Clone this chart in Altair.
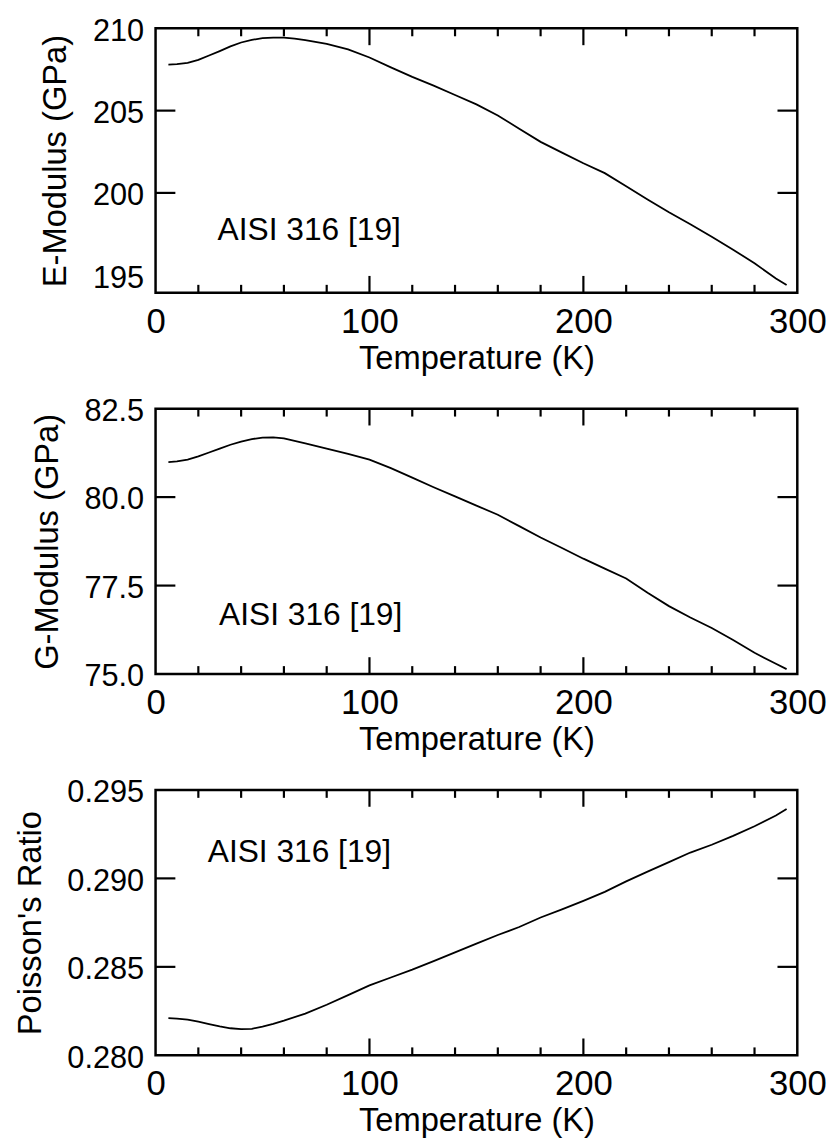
import altair as alt
import pandas as pd

# ---------------- data ----------------
T_E = [6, 10, 15, 20, 25, 30, 35, 40, 45, 50, 55, 60, 65, 70, 80, 90, 100, 110, 120,
       130, 140, 150, 160, 170, 180, 190, 200, 210, 220, 230, 240, 250, 260, 270, 280,
       290, 295]
E_GPA = [207.80, 207.82, 207.90, 208.08, 208.35, 208.62, 208.90, 209.14, 209.30, 209.40,
         209.44, 209.44, 209.38, 209.29, 209.05, 208.72, 208.23, 207.63, 207.05, 206.52,
         205.95, 205.38, 204.70, 203.90, 203.10, 202.45, 201.80, 201.20, 200.40, 199.60,
         198.82, 198.10, 197.33, 196.55, 195.72, 194.80, 194.40]

T_G = [6, 10, 15, 20, 25, 30, 35, 40, 45, 50, 55, 60, 70, 80, 90, 100, 110, 120, 130,
       140, 150, 160, 170, 180, 190, 200, 210, 220, 230, 240, 250, 260, 270, 280, 290, 295]
G_GPA = [80.99, 81.01, 81.06, 81.15, 81.26, 81.37, 81.48, 81.57, 81.64, 81.68, 81.69,
         81.66, 81.52, 81.37, 81.22, 81.06, 80.82, 80.55, 80.28, 80.02, 79.76, 79.50,
         79.18, 78.86, 78.56, 78.26, 77.98, 77.70, 77.30, 76.92, 76.60, 76.30, 75.96,
         75.60, 75.29, 75.14]

T_NU = [6, 10, 15, 20, 25, 30, 35, 40, 45, 50, 55, 60, 70, 80, 90, 100, 110, 120, 130,
        140, 150, 160, 170, 180, 190, 200, 210, 220, 230, 240, 250, 260, 270, 280, 290, 295]
NU = [0.28210, 0.28208, 0.28202, 0.28190, 0.28177, 0.28164, 0.28153, 0.28148, 0.28150,
      0.28162, 0.28178, 0.28196, 0.28236, 0.28286, 0.28340, 0.28395, 0.28440, 0.28484,
      0.28532, 0.28582, 0.28631, 0.28680, 0.28725, 0.28779, 0.28825, 0.28873, 0.28924,
      0.28983, 0.29038, 0.29092, 0.29146, 0.29190, 0.29240, 0.29295, 0.29355, 0.29392]

X_LABELS = [0, 100, 200, 300]
X_MINOR = [20, 40, 60, 80, 120, 140, 160, 180, 220, 240, 260, 280]
X_MAJOR = [100, 200]

E_TICKS = [195, 200, 205, 210]
G_TICKS = [75.0, 77.5, 80.0, 82.5]
NU_TICKS = [0.280, 0.285, 0.290, 0.295]

LABEL = "AISI 316 [19]"
FONT = "Liberation Sans"
W = 648
XMIN, XMAX = 0, 300
MINOR_LEN, MAJOR_LEN, YTICK_LEN = 8, 17, 20   # tick lengths in px (style)
CURVE_W, TICK_W = 1.8, 2.2                      # stroke widths (style)


def panel(T, vals, ydomain, yticks, yfmt, ytitle, h, ann_T, ann_v):
    ymin, ymax = ydomain
    xs = alt.Scale(domain=[XMIN, XMAX], nice=False, zero=False)
    ys = alt.Scale(domain=[ymin, ymax], nice=False, zero=False)
    xaxis = alt.Axis(values=X_LABELS, format="d", title="Temperature (K)",
                     labelFlush=False, labelOverlap=False)
    yaxis = alt.Axis(values=yticks, format=yfmt, title=ytitle, labelOverlap=False)

    # curve + inward frame ticks, all as segments of one line mark
    rows = [{"seg": "curve", "o": i, "T": t, "v": v, "sw": CURVE_W}
            for i, (t, v) in enumerate(zip(T, vals))]
    dy = (ymax - ymin) / h
    dx = (XMAX - XMIN) / W
    k = 0
    for t in X_MINOR + X_MAJOR:
        ln = MAJOR_LEN if t in X_MAJOR else MINOR_LEN
        for base, sgn in ((ymax, -1), (ymin, 1)):
            k += 1
            rows.append({"seg": f"xt{k}", "o": 0, "T": t, "v": base, "sw": TICK_W})
            rows.append({"seg": f"xt{k}", "o": 1, "T": t, "v": base + sgn * ln * dy,
                         "sw": TICK_W})
    for v in yticks[1:-1]:
        for base, sgn in ((XMIN, 1), (XMAX, -1)):
            k += 1
            rows.append({"seg": f"yt{k}", "o": 0, "T": base, "v": v, "sw": TICK_W})
            rows.append({"seg": f"yt{k}", "o": 1, "T": base + sgn * YTICK_LEN * dx, "v": v,
                         "sw": TICK_W})
    df = pd.DataFrame(rows)

    line = alt.Chart(df).mark_line(color="black").encode(
        x=alt.X("T:Q", scale=xs, axis=xaxis),
        y=alt.Y("v:Q", scale=ys, axis=yaxis),
        detail="seg:N",
        order="o:Q",
        strokeWidth=alt.StrokeWidth("sw:Q", scale=None),
    )

    ann = pd.DataFrame({"T": [ann_T], "v": [ann_v], "label": [LABEL]})
    txt = alt.Chart(ann).mark_text(
        align="left", baseline="alphabetic", fontSize=32, font=FONT, color="black"
    ).encode(x=alt.X("T:Q", scale=xs, axis=xaxis),
             y=alt.Y("v:Q", scale=ys, axis=yaxis), text="label:N")

    return alt.layer(line, txt).properties(width=W, height=h)


p1 = panel(T_E, E_GPA, [193.93, 210.0], E_TICKS, "d", "E-Modulus (GPa)", 267, 29.0, 197.13)
p2 = panel(T_G, G_GPA, [75.0, 82.5], G_TICKS, ".1f", "G-Modulus (GPa)", 268, 29.7, 76.38)
p3 = panel(T_NU, NU, [0.280, 0.295], NU_TICKS, ".3f", "Poisson's Ratio", 268, 24.4, 0.29092)

chart = alt.vconcat(p1, p2, p3, spacing=117, bounds="flush").properties(
    padding={"left": 5, "top": 0, "right": 0, "bottom": 0},
    background="white",
).configure_view(
    stroke="black", strokeWidth=2.5
).configure_axis(
    grid=False, ticks=False, domain=False,
    labelFont=FONT, titleFont=FONT, labelColor="black", titleColor="black",
    titleFontWeight="normal",
).configure_axisX(
    labelFontSize=35, titleFontSize=33, labelPadding=12, titlePadding=3,
).configure_axisY(
    labelFontSize=31, titleFontSize=33, labelPadding=12, titlePadding=20, labelOffset=3,
)

chart.save("out.html", embed_options={"renderer": "svg", "actions": False})
